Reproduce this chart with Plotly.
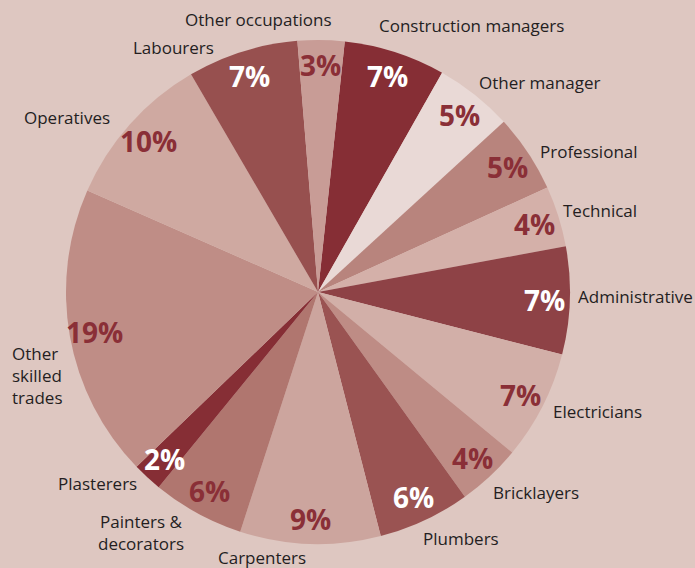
import math
import plotly.graph_objects as go

# ---- data ----
categories = ["Construction managers", "Other manager", "Professional", "Technical",
              "Administrative", "Electricians", "Bricklayers", "Plumbers", "Carpenters",
              "Painters &<br>decorators", "Plasterers", "Other<br>skilled<br>trades",
              "Operatives", "Labourers", "Other occupations"]
shares = [6.5, 5.0, 5.0, 3.9, 6.9, 7.0, 4.1, 5.9, 9.0, 5.9, 1.9, 18.8, 10.0, 7.1, 3.0]
pct_labels = ["7%", "5%", "5%", "4%", "7%", "7%", "4%", "6%", "9%", "6%", "2%", "19%",
              "10%", "7%", "3%"]

# ---- style ----
slice_colors = ["#862E35", "#E9D9D6", "#B8847D", "#D4B0A9", "#8E4246", "#D2AFA8",
                "#BE8C85", "#9A5352", "#CCA59E", "#B0766F", "#862E35", "#BF8D86",
                "#CFA9A1", "#97504F", "#C89C96"]
pct_colors = ["white", "#8A2F37", "#8A2F37", "#8A2F37", "white", "#8A2F37", "#8A2F37",
              "white", "#8A2F37", "#8A2F37", "white", "#8A2F37", "#8A2F37", "white",
              "#8A2F37"]
BG = "#DEC7C1"
W, H = 695, 568
CX, CY, R = 318, 292, 252
ROT = 6.1
FONT = "Open Sans"
PCT_RADIUS = 0.9

# category label placement (pixel centre, alignment)
label_pos = [(471, 25, "center"), (539, 82, "center"), (589, 151, "center"),
             (600, 210, "center"), (635, 296, "center"), (597, 411, "center"),
             (536, 492, "center"), (461, 538, "center"), (262, 557, "center"),
             (141, 532, "center"), (97, 483, "center"), (10, 375, "left"),
             (67, 117, "center"), (174, 47, "center"), (258, 19, "center")]

fig = go.Figure(go.Pie(
    labels=categories,
    values=shares,
    sort=False,
    direction="clockwise",
    rotation=ROT,
    marker=dict(colors=slice_colors, line=dict(width=0)),
    textinfo="none",
    hoverinfo="label+percent",
    showlegend=False,
    domain=dict(x=[(CX - R) / W, (CX + R) / W], y=[1 - (CY + R) / H, 1 - (CY - R) / H]),
))

annotations = []
total = sum(shares)
acc = 0.0
for i, v in enumerate(shares):
    mid = ROT + (acc + v / 2) / total * 360
    acc += v
    a = math.radians(mid)
    px = CX + R * PCT_RADIUS * math.sin(a)
    py = CY - R * PCT_RADIUS * math.cos(a)
    annotations.append(dict(x=px / W, y=1 - py / H, xref="paper", yref="paper",
                            text="<b>%s</b>" % pct_labels[i], showarrow=False,
                            font=dict(family=FONT, size=28, color=pct_colors[i]),
                            xanchor="center", yanchor="middle"))

for i, name in enumerate(categories):
    lx, ly, al = label_pos[i]
    annotations.append(dict(x=lx / W, y=1 - ly / H, xref="paper", yref="paper",
                            text=name, showarrow=False, align=al,
                            font=dict(family=FONT, size=17, color="#241E1F"),
                            xanchor="left" if al == "left" else "center",
                            yanchor="middle"))

fig.update_layout(
    width=W, height=H,
    margin=dict(l=0, r=0, t=0, b=0),
    paper_bgcolor=BG, plot_bgcolor=BG,
    annotations=annotations,
)

fig.write_html(
    "out.html",
    config={"displayModeBar": False},
    post_script="document.body.style.margin='0';document.body.style.background='%s';" % BG,
)
